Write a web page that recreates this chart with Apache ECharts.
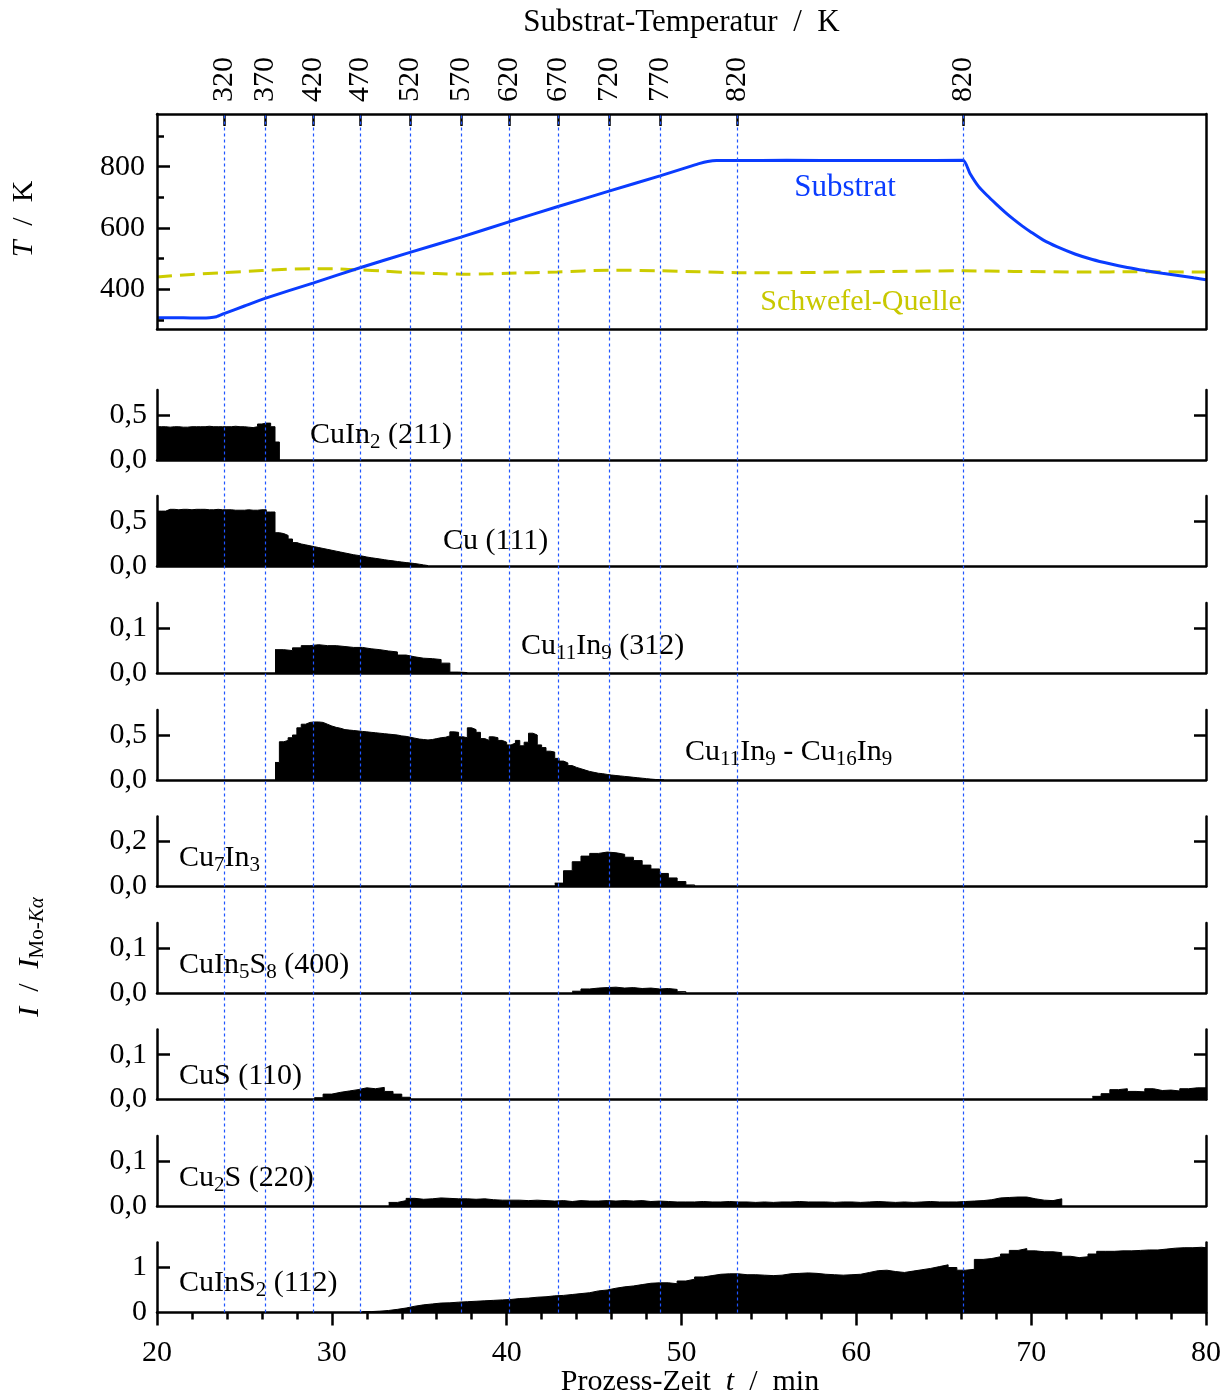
<!DOCTYPE html>
<html>
<head>
<meta charset="utf-8">
<script src="https://cdn.jsdelivr.net/npm/echarts@6/dist/echarts.min.js"></script>
<style>html,body{margin:0;padding:0;background:#fff}#c{width:1231px;height:1398px}</style>
</head>
<body>
<div id="c"></div>
<script>
// ---------------- DATA ----------------
const timeMin = 20, timeMax = 80;
const timeTicks = [20, 30, 40, 50, 60, 70, 80];

// top axis: substrate temperature at given process times
const tempTickTimes  = [23.83, 26.18, 28.92, 31.61, 34.47, 37.39, 40.13, 42.94, 45.85, 48.77, 53.17, 66.10];
const tempTickLabels = ['320','370','420','470','520','570','620','670','720','770','820','820'];

// temperature curves [time min, T K]
const substrateTemp = [[20,307],[21,307],[22,306],[23,307],[23.4,310],[23.83,320],[25,345],[26.18,370],[28.92,420],[31.61,470],[34.47,520],[37.39,570],[40.13,620],[42.94,670],[45.85,720],[48.77,770],[50.5,801],[51.0,810],[51.5,817],[52,820],[53.17,820],[56,821],[60,820],[63,820],[66.1,821],[66.5,778],[67.0,735],[67.5,705],[68.0,678],[68.5,652],[69.0,628],[69.5,606],[70.0,586],[70.7,560],[71.5,538],[72.5,515],[73.5,497],[74.5,483],[75.5,471],[76.5,461],[77.5,452],[78.5,444],[79.3,437],[80,431]];
const sulfurTemp = [[20,440],[22,448],[23.83,454],[26,461],[28.9,467],[30,467],[31.6,463],[33,459],[34.5,454],[36,451],[37.4,449],[39,450],[40.1,452],[42.9,456],[45.85,462],[48.77,460],[51,457],[53.2,454],[56,454],[59.2,456],[62,458],[66.1,460],[69,458],[73,456],[76,457],[80,456]];
const tempAxisMin = 270, tempAxisMax = 972;
const tempMajorTicks = [400, 600, 800];
const tempMinorTicks = [300, 500, 700, 900];

// phase panels (relative intensity I / I_Mo-Ka)
const phaseNames = [
  '{n|CuIn}{s|2}{n| (211)}',
  '{n|Cu (111)}',
  '{n|Cu}{s|11}{n|In}{s|9}{n| (312)}',
  '{n|Cu}{s|11}{n|In}{s|9}{n| - Cu}{s|16}{n|In}{s|9}',
  '{n|Cu}{s|7}{n|In}{s|3}',
  '{n|CuIn}{s|5}{n|S}{s|8}{n| (400)}',
  '{n|CuS (110)}',
  '{n|Cu}{s|2}{n|S (220)}',
  '{n|CuInS}{s|2}{n| (112)}'
];
const phaseTickValues = [0.5, 0.5, 0.1, 0.5, 0.2, 0.1, 0.1, 0.1, 1];
const phaseTickLabels = [['0,0','0,5'],['0,0','0,5'],['0,0','0,1'],['0,0','0,5'],['0,0','0,2'],['0,0','0,1'],['0,0','0,1'],['0,0','0,1'],['0','1']];
const phaseAxisMax = [0.778, 0.778, 0.156, 0.778, 0.311, 0.156, 0.156, 0.156, 1.556];

// histogram values: start time, bin width (min), values
const cuIn2Start = 20, cuIn2Step = 0.25;
const cuIn2Values = [0.37,0.37,0.365,0.37,0.37,0.365,0.365,0.37,0.37,0.37,0.37,0.375,0.37,0.37,0.37,0.37,0.37,0.375,0.37,0.37,0.365,0.36,0.37,0.40,0.41,0.41,0.37,0.20];

const cuStart = 20, cuStep = 0.25;
const cuValues = [0.61,0.61,0.63,0.63,0.625,0.63,0.63,0.625,0.63,0.63,0.63,0.625,0.625,0.63,0.625,0.625,0.625,0.62,0.62,0.62,0.625,0.62,0.62,0.625,0.625,0.60,0.60,0.37,0.36,0.34,0.30,0.26,0.245,0.235,0.225,0.215,0.205,0.195,0.185,0.175,0.165,0.155,0.145,0.135,0.125,0.118,0.11,0.10,0.092,0.085,0.078,0.07,0.063,0.057,0.05,0.044,0.038,0.033,0.027,0.02,0.012,0.005];

const cu11In9Start = 26.75, cu11In9Step = 0.5;
const cu11In9Values = [0.052,0.050,0.056,0.061,0.063,0.061,0.061,0.059,0.057,0.057,0.054,0.052,0.049,0.047,0.040,0.036,0.033,0.032,0.030,0.022,0.002,0.001];

const cu11Cu16Start = 26.75, cu11Cu16Step = 0.25;
const cu11Cu16Values = [0.195,0.425,0.44,0.47,0.50,0.58,0.62,0.64,0.645,0.645,0.64,0.62,0.60,0.585,0.575,0.56,0.555,0.55,0.545,0.54,0.535,0.53,0.525,0.52,0.515,0.51,0.505,0.50,0.49,0.485,0.475,0.465,0.455,0.45,0.445,0.45,0.46,0.47,0.475,0.49,0.535,0.53,0.48,0.47,0.58,0.56,0.53,0.46,0.44,0.48,0.47,0.44,0.42,0.39,0.41,0.44,0.38,0.42,0.52,0.50,0.39,0.36,0.32,0.31,0.24,0.21,0.19,0.16,0.14,0.125,0.11,0.095,0.085,0.075,0.07,0.062,0.055,0.05,0.045,0.04,0.035,0.03,0.025,0.02,0.015,0.01,0.006,0.004,0.002];

const cu7In3Start = 42.75, cu7In3Step = 0.5;
const cu7In3Values = [0.015,0.07,0.11,0.135,0.147,0.153,0.15,0.143,0.13,0.115,0.095,0.078,0.058,0.038,0.022,0.007];

const cuIn5S8Start = 43.75, cuIn5S8Step = 0.5;
const cuIn5S8Values = [0.004,0.009,0.011,0.012,0.013,0.011,0.012,0.010,0.011,0.009,0.010,0.008,0.003];

const cuSAStart = 29, cuSAStep = 0.5;
const cuSAValues = [0.004,0.012,0.016,0.019,0.022,0.026,0.024,0.027,0.018,0.012,0.005];
const cuSBStart = 73.5, cuSBStep = 0.5;
const cuSBValues = [0.007,0.013,0.022,0.024,0.018,0.017,0.024,0.02,0.021,0.019,0.024,0.026,0.026];

const cu2SStart = 33.25, cu2SStep = 0.5;
const cu2SValues = [0.008,0.012,0.017,0.015,0.016,0.018,0.017,0.016,0.016,0.015,0.016,0.014,0.013,0.013,0.013,0.012,0.013,0.012,0.011,0.012,0.010,0.012,0.011,0.011,0.012,0.011,0.012,0.011,0.012,0.010,0.011,0.010,0.009,0.009,0.009,0.010,0.009,0.009,0.010,0.009,0.009,0.008,0.009,0.008,0.009,0.009,0.010,0.009,0.009,0.009,0.008,0.009,0.009,0.008,0.009,0.010,0.009,0.008,0.009,0.008,0.009,0.010,0.009,0.009,0.009,0.010,0.011,0.012,0.014,0.018,0.019,0.020,0.020,0.016,0.013,0.012,0.016];

const cuInS2Start = 31.75, cuInS2Step = 0.5;
const cuInS2Values = [0.02,0.03,0.045,0.07,0.10,0.14,0.17,0.19,0.21,0.215,0.23,0.24,0.25,0.26,0.27,0.28,0.29,0.31,0.32,0.34,0.35,0.37,0.38,0.40,0.42,0.44,0.48,0.50,0.54,0.57,0.59,0.62,0.65,0.66,0.66,0.64,0.70,0.74,0.79,0.82,0.85,0.86,0.86,0.84,0.84,0.83,0.82,0.83,0.86,0.87,0.88,0.87,0.85,0.84,0.83,0.84,0.85,0.89,0.93,0.94,0.91,0.89,0.92,0.95,0.98,1.02,1.06,1.00,0.94,0.96,1.18,1.20,1.24,1.30,1.38,1.42,1.37,1.35,1.35,1.33,1.25,1.22,1.24,1.30,1.36,1.36,1.37,1.37,1.38,1.39,1.39,1.41,1.43,1.44,1.44,1.45,1.43];

// ---------------- LAYOUT / STYLE ----------------
const FONT = 'Liberation Serif';
const BLACK = '#000';
const LW = 2.5;
const plotLeft = 157, plotRight = 25;
const topGridTop = 114, topGridHeight = 215;
const panelBaselines = [460, 566, 673, 780, 886.5, 993, 1099.5, 1206, 1312.5];
const panelHeight = 70;
const phaseLabelX = [310, 443, 521, 685, 179, 179, 179, 179, 179];
const phaseLabelY = [435, 541, 646, 752, 858, 965, 1076, 1178, 1283];

const rich = {
  n:  {fontFamily: FONT, fontSize: 30, lineHeight: 34, color: BLACK},
  i:  {fontFamily: FONT, fontSize: 30, lineHeight: 34, color: BLACK, fontStyle: 'italic'},
  s:  {fontFamily: FONT, fontSize: 21, lineHeight: 34, color: BLACK, verticalAlign: 'top', padding: [14, 0, 0, 0]},
  si: {fontFamily: FONT, fontSize: 21, lineHeight: 34, color: BLACK, fontStyle: 'italic', verticalAlign: 'top', padding: [14, 0, 0, 0]}
};
const labelFont = {fontFamily: FONT, fontSize: 30, color: BLACK};

function bins(start, step, vals) {
  const d = vals.map((v, i) => [start + i * step, v]);
  d.push([start + vals.length * step, 0]);
  return d;
}
const panelSeries = [
  [bins(cuIn2Start, cuIn2Step, cuIn2Values)],
  [bins(cuStart, cuStep, cuValues)],
  [bins(cu11In9Start, cu11In9Step, cu11In9Values)],
  [bins(cu11Cu16Start, cu11Cu16Step, cu11Cu16Values)],
  [bins(cu7In3Start, cu7In3Step, cu7In3Values)],
  [bins(cuIn5S8Start, cuIn5S8Step, cuIn5S8Values)],
  [bins(cuSAStart, cuSAStep, cuSAValues), bins(cuSBStart, cuSBStep, cuSBValues)],
  [bins(cu2SStart, cu2SStep, cu2SValues)],
  [bins(cuInS2Start, cuInS2Step, cuInS2Values)]
];

const grids = [{left: plotLeft, right: plotRight, top: topGridTop, height: topGridHeight}];
panelBaselines.forEach(b => grids.push({left: plotLeft, right: plotRight, top: b - panelHeight, height: panelHeight}));
grids.push({left: plotLeft, right: plotRight, top: topGridTop, height: panelBaselines[8] - topGridTop});

const xAxes = [];
const yAxes = [];
const series = [];

// top panel axes
xAxes.push({
  gridIndex: 0, type: 'value', position: 'top', min: timeMin, max: timeMax, z: 4,
  axisLine: {show: true, onZero: false, lineStyle: {color: BLACK, width: LW}},
  axisTick: {show: true, inside: true, length: 12, customValues: tempTickTimes, lineStyle: {color: BLACK, width: LW}},
  axisLabel: {show: true, customValues: tempTickTimes, rotate: -90, margin: 12, ...labelFont,
    formatter: v => { const i = tempTickTimes.findIndex(t => Math.abs(t - v) < 1e-6); return i >= 0 ? tempTickLabels[i] : ''; }},
  splitLine: {show: false},
  name: 'Substrat-Temperatur  /  K', nameLocation: 'middle', nameGap: 76,
  nameTextStyle: {...labelFont, fontSize: 31}
});
xAxes.push({
  gridIndex: 0, type: 'value', position: 'bottom', min: timeMin, max: timeMax, z: 4,
  axisLine: {show: true, onZero: false, lineStyle: {color: BLACK, width: LW}},
  axisTick: {show: false}, axisLabel: {show: false}, splitLine: {show: false}
});
yAxes.push({
  gridIndex: 0, type: 'value', position: 'left', min: tempAxisMin, max: tempAxisMax, z: 4,
  axisLine: {show: true, onZero: false, lineStyle: {color: BLACK, width: LW}},
  axisTick: {show: true, inside: true, length: 13, customValues: tempMajorTicks, lineStyle: {color: BLACK, width: LW}},
  axisLabel: {show: true, customValues: tempMajorTicks, margin: 12, ...labelFont},
  splitLine: {show: false}
});
yAxes.push({
  gridIndex: 0, type: 'value', position: 'left', min: tempAxisMin, max: tempAxisMax, z: 4,
  axisLine: {show: false},
  axisTick: {show: true, inside: true, length: 7, customValues: tempMinorTicks, lineStyle: {color: BLACK, width: LW}},
  axisLabel: {show: false}, splitLine: {show: false}
});
yAxes.push({
  gridIndex: 0, type: 'value', position: 'right', min: tempAxisMin, max: tempAxisMax, z: 4,
  axisLine: {show: true, onZero: false, lineStyle: {color: BLACK, width: LW}},
  axisTick: {show: false}, axisLabel: {show: false}, splitLine: {show: false}
});

series.push({
  type: 'line', xAxisIndex: 1, yAxisIndex: 0, data: sulfurTemp, symbol: 'none', z: 3, smooth: 0.3,
  lineStyle: {color: '#cccc00', width: 3, type: [15, 8]}
});
series.push({
  type: 'line', xAxisIndex: 1, yAxisIndex: 0, data: substrateTemp, symbol: 'none', z: 3, smooth: 0.2,
  lineStyle: {color: '#0a3cff', width: 3}
});

// phase panels
for (let k = 0; k < 9; k++) {
  const last = k === 8;
  xAxes.push({
    gridIndex: k + 1, type: 'value', position: 'bottom', min: timeMin, max: timeMax, interval: 10, z: 4,
    axisLine: {show: true, onZero: false, lineStyle: {color: BLACK, width: LW}},
    axisTick: {show: last, inside: false, length: 13, lineStyle: {color: BLACK, width: LW}},
    minorTick: {show: last, splitNumber: 5, length: 7, lineStyle: {color: BLACK, width: LW}},
    axisLabel: {show: last, margin: 26, ...labelFont},
    splitLine: {show: false}
  });
  const tv = phaseTickValues[k];
  const tl = phaseTickLabels[k];
  yAxes.push({
    gridIndex: k + 1, type: 'value', position: 'left', min: 0, max: phaseAxisMax[k], z: 4,
    axisLine: {show: true, onZero: false, lineStyle: {color: BLACK, width: LW}},
    axisTick: {show: true, inside: true, length: 13, customValues: [tv], lineStyle: {color: BLACK, width: LW}},
    axisLabel: {show: true, customValues: [0, tv], margin: 10, ...labelFont,
      formatter: v => (v === 0 ? tl[0] : tl[1])},
    splitLine: {show: false}
  });
  yAxes.push({
    gridIndex: k + 1, type: 'value', position: 'right', min: 0, max: phaseAxisMax[k], z: 4,
    axisLine: {show: true, onZero: false, lineStyle: {color: BLACK, width: LW}},
    axisTick: {show: true, inside: true, length: 12, customValues: [tv], lineStyle: {color: BLACK, width: LW}},
    axisLabel: {show: false}, splitLine: {show: false}
  });
  panelSeries[k].forEach(d => series.push({
    type: 'line', step: 'end', xAxisIndex: 2 + k, yAxisIndex: 3 + 2 * k, data: d, symbol: 'none', z: 3,
    lineStyle: {color: BLACK, width: 1}, areaStyle: {color: BLACK, opacity: 1}
  }));
}

// overlay for dotted guide lines at the temperature marks
xAxes.push({gridIndex: 10, type: 'value', min: timeMin, max: timeMax, show: false});
yAxes.push({gridIndex: 10, type: 'value', min: 0, max: 1, show: false});
series.push({
  type: 'line', xAxisIndex: 11, yAxisIndex: 21, data: [], z: 1, silent: true,
  markLine: {
    silent: true, symbol: ['none', 'none'], label: {show: false}, animation: false,
    lineStyle: {color: '#1f55ff', width: 1.2, type: [3, 3]},
    emphasis: {disabled: true},
    data: tempTickTimes.map(t => ({xAxis: t}))
  }
});

const graphic = [];
phaseNames.forEach((txt, k) => graphic.push({
  type: 'text', x: phaseLabelX[k], y: phaseLabelY[k], z: 10,
  style: {text: txt, rich: rich, align: 'left', verticalAlign: 'middle', fill: BLACK}
}));
graphic.push({type: 'text', x: 845, y: 188, z: 10,
  style: {text: 'Substrat', font: '31px "Liberation Serif"', fill: '#0a3cff', align: 'center', verticalAlign: 'middle'}});
graphic.push({type: 'text', x: 861, y: 302, z: 10,
  style: {text: 'Schwefel-Quelle', font: '30px "Liberation Serif"', fill: '#c8c800', align: 'center', verticalAlign: 'middle'}});
graphic.push({type: 'text', x: 24, y: 219, rotation: Math.PI / 2, z: 10,
  style: {text: '{i|T}{n|  /  K}', rich: rich, align: 'center', verticalAlign: 'middle'}});
graphic.push({type: 'text', x: 30, y: 957, rotation: Math.PI / 2, z: 10,
  style: {text: '{i|I}{n|  /  }{i|I}{s|Mo-}{si|Kα}', rich: rich, align: 'center', verticalAlign: 'middle'}});
graphic.push({type: 'text', x: 690, y: 1382, z: 10,
  style: {text: '{n|Prozess-Zeit  }{i|t}{n|  /  min}', rich: rich, align: 'center', verticalAlign: 'middle'}});

const chart = echarts.init(document.getElementById('c'), null, {renderer: 'canvas'});
chart.setOption({
  animation: false,
  backgroundColor: '#fff',
  grid: grids,
  xAxis: xAxes,
  yAxis: yAxes,
  series: series,
  graphic: graphic
});
</script>
</body>
</html>
